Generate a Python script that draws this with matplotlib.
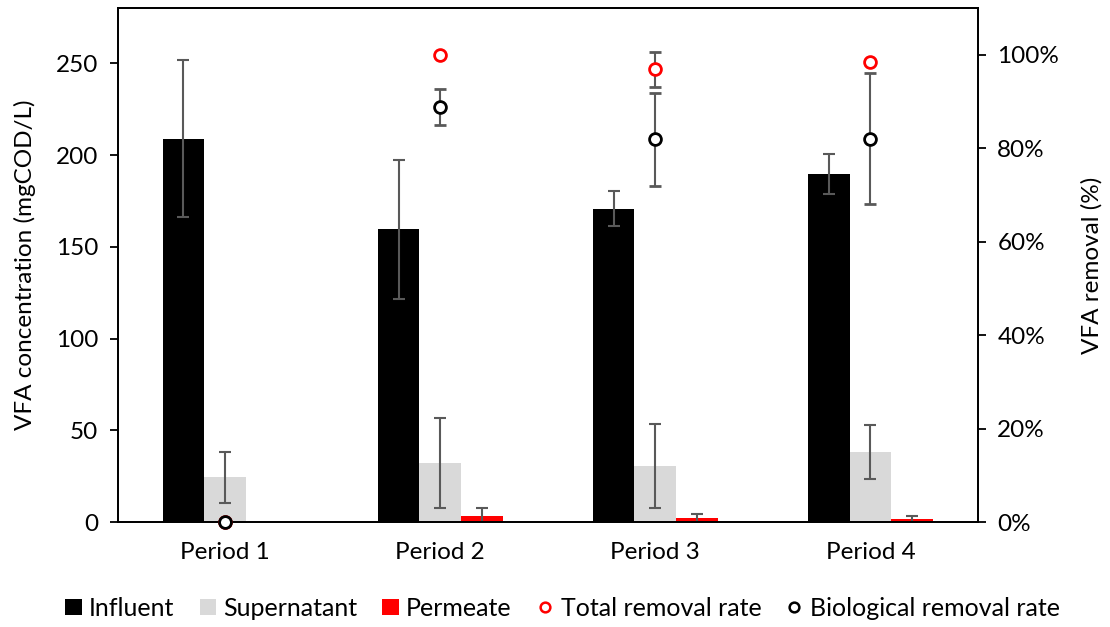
import matplotlib

matplotlib.use("Agg")
import matplotlib.pyplot as plt
import numpy as np
from matplotlib.lines import Line2D
from matplotlib.patches import Patch
from matplotlib.ticker import PercentFormatter

plt.rcParams["font.family"] = ["Lato", "DejaVu Sans"]
plt.rcParams["font.size"] = 17.5

periods = ["Period 1", "Period 2", "Period 3", "Period 4"]

influent = [209, 159.5, 170.8, 189.8]
influent_err = [43, 38, 9.7, 11]
supernatant = [24.5, 32.3, 30.6, 38.2]
supernatant_err = [14, 24.6, 23, 14.6]
permeate = [0, 3.3, 2.3, 1.6]
permeate_err = [0, 4.7, 2, 2]

total_removal = [0, 100, 96.9, 98.5]
total_removal_err = [0, 0, 3.8, 0]
bio_removal = [0, 88.9, 81.9, 82.1]
bio_removal_err = [0, 3.8, 10, 14]

ERR_COLOR = "#595959"

fig = plt.figure(figsize=(11.1, 6.27), dpi=100)
ax = fig.add_axes([0.106, 0.167, 0.775, 0.820])
ax2 = ax.twinx()

x = np.arange(len(periods))
w = 0.194
err_kw = dict(ecolor=ERR_COLOR, elinewidth=1.5, capsize=4, capthick=1.5)

ax.bar(x - w, influent, w, yerr=influent_err, color="black", error_kw=err_kw, zorder=2)
ax.bar(x, supernatant, w, yerr=supernatant_err, color="#d9d9d9", error_kw=err_kw, zorder=2)
perm_err = [e if e > 0 else np.nan for e in permeate_err]
ax.bar(x + w, permeate, w, yerr=perm_err, color="#ff0000", error_kw=err_kw, zorder=2)

ax.set_xlim(-0.5, len(periods) - 0.5)
ax.set_ylim(0, 280)
ax.set_yticks(range(0, 251, 50))
ax.set_xticks(x)
ax.set_xticklabels(periods)
ax.tick_params(axis="x", length=0, pad=14)
ax.tick_params(axis="y", length=6, width=1.3, direction="out", pad=8)
ax.set_ylabel("VFA concentration (mgCOD/L)", labelpad=14)

ax2.set_ylim(0, 110)
ax2.set_yticks(range(0, 101, 20))
ax2.yaxis.set_major_formatter(PercentFormatter(decimals=0))
ax2.tick_params(axis="y", length=6, width=1.3, direction="out", pad=8)
ax2.set_ylabel("VFA removal (%)", labelpad=16)

tot_err = [e if e > 0 else np.nan for e in total_removal_err]
bio_err = [e if e > 0 else np.nan for e in bio_removal_err]
ax2.errorbar(x, total_removal, yerr=tot_err, fmt="o", mfc="white", mec="#ff0000",
             mew=2, ms=8.5, ecolor=ERR_COLOR, elinewidth=1.5, capsize=4, capthick=1.5,
             zorder=3, clip_on=False)
ax2.errorbar(x, bio_removal, yerr=bio_err, fmt="o", mfc="white", mec="black",
             mew=2, ms=8.5, ecolor=ERR_COLOR, elinewidth=1.5, capsize=4, capthick=1.5,
             zorder=4, clip_on=False)

for a in (ax, ax2):
    for s in a.spines.values():
        s.set_linewidth(1.3)
        s.set_color("black")

handles = [
    Patch(facecolor="black", label="Influent"),
    Patch(facecolor="#d9d9d9", label="Supernatant"),
    Patch(facecolor="#ff0000", label="Permeate"),
    Line2D([], [], marker="o", ls="none", mfc="white", mec="#ff0000", mew=1.8, ms=7,
           label="Total removal rate"),
    Line2D([], [], marker="o", ls="none", mfc="white", mec="black", mew=1.8, ms=7,
           label="Biological removal rate"),
]
fig.legend(handles=handles, loc="center", bbox_to_anchor=(0.507, 0.03), ncol=5,
           frameon=False, fontsize=18, handlelength=0.65, handleheight=0.65,
           handletextpad=0.3, columnspacing=1.0)

fig.savefig("out.png", dpi=100)
